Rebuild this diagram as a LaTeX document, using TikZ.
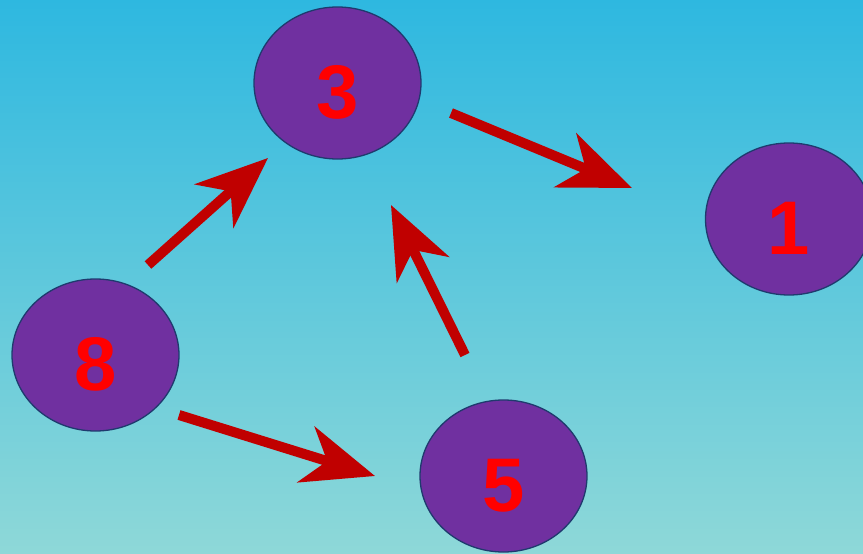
\documentclass[tikz,border=0pt]{standalone}
\usepackage{fontspec}
\setmainfont{Liberation Sans}
\usetikzlibrary{arrows.meta,shapes.geometric}
\definecolor{bgtop}{HTML}{2EB8E0}
\definecolor{bgbot}{HTML}{8ED8D8}
\definecolor{nodefill}{HTML}{7030A0}
\definecolor{nodeline}{HTML}{1F3A6E}
\definecolor{arrowred}{HTML}{C00000}
\definecolor{digitred}{HTML}{FF0000}
\tikzset{
  numnode/.style={ellipse, draw=nodeline, line width=1.3pt, fill=nodefill,
    minimum width=167pt, minimum height=152pt, inner sep=0pt,
    text=digitred, font=\fontsize{76}{76}\selectfont\bfseries, text height=71pt, text depth=0pt},
  bigarrow/.style={draw=arrowred, line width=10pt,
    -{Stealth[length=72pt, width=58pt, inset=22pt]}}
}
\begin{document}
\begin{tikzpicture}[x=1pt,y=-1pt]
\shade[top color=bgtop, bottom color=bgbot] (0,0) rectangle (863,554);
\useasboundingbox (0,0) rectangle (863,554);
\node[numnode] (n3) at (337.5,83) {3};
\node[numnode] (n1) at (789,219) {1};
\node[numnode] (n8) at (95.5,355) {8};
\node[numnode] (n5) at (503.5,476) {5};
\coordinate (a83s) at (148,265);
\coordinate (a83e) at (268,158);
\coordinate (a31s) at (451,113);
\coordinate (a31e) at (632,188);
\coordinate (a53s) at (465,355);
\coordinate (a53e) at (391,205);
\coordinate (a85s) at (179,415);
\coordinate (a85e) at (375,476);
\draw[bigarrow] (a83s) -- (a83e);
\draw[bigarrow] (a31s) -- (a31e);
\draw[bigarrow] (a53s) -- (a53e);
\draw[bigarrow] (a85s) -- (a85e);
\end{tikzpicture}
\end{document}
